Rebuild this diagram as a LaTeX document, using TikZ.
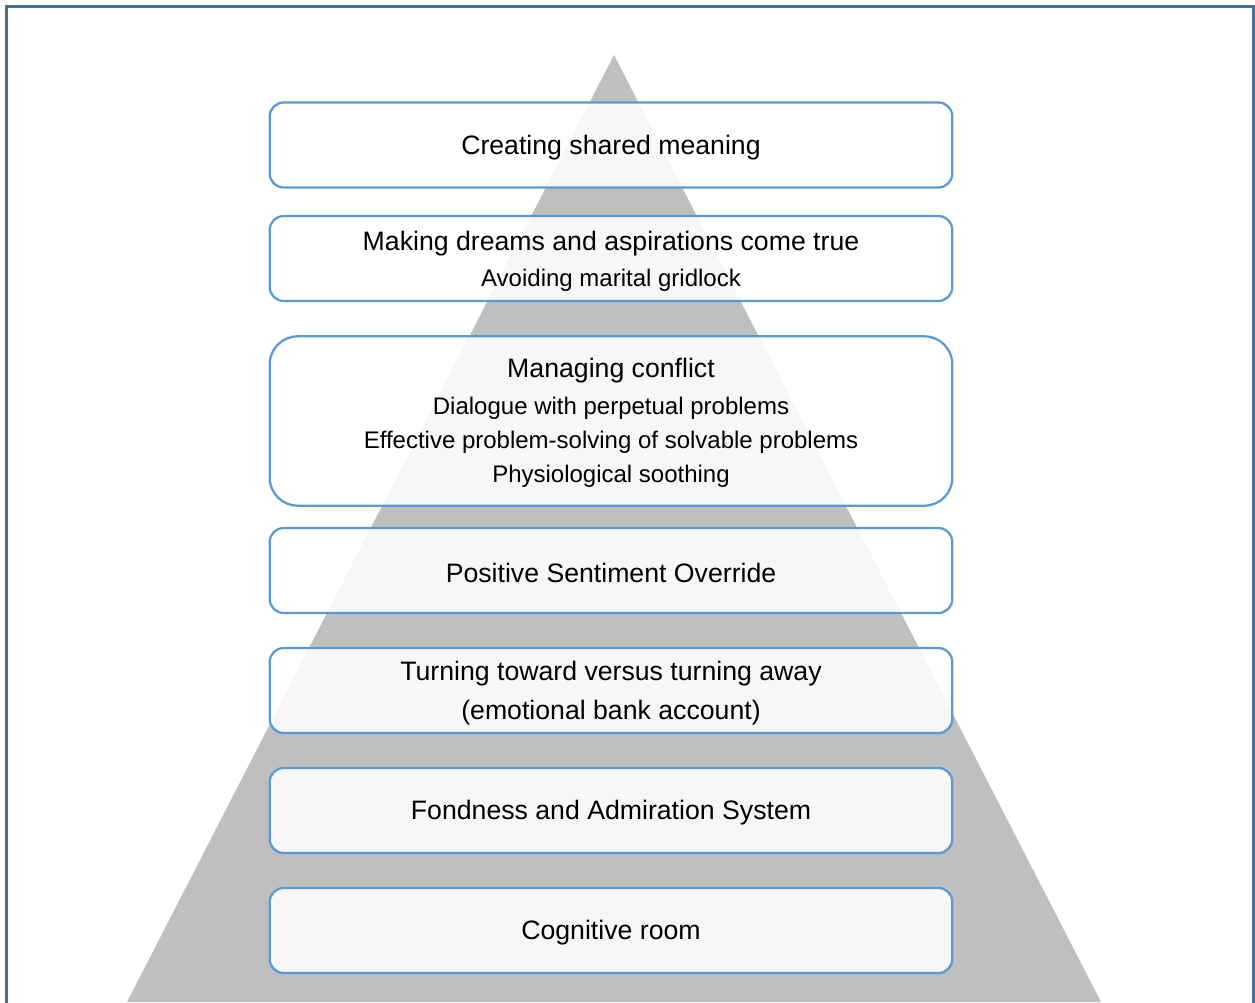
\documentclass[tikz,border=0pt]{standalone}
\usepackage{fontspec}
\setmainfont{Liberation Sans}
\definecolor{frameblue}{RGB}{65,113,156}
\definecolor{boxblue}{RGB}{91,155,213}
\definecolor{pyrgray}{RGB}{191,191,191}
\tikzset{
  layerbox/.style={draw=boxblue, line width=1.7pt, fill=white, fill opacity=0.88, text opacity=1,
    rounded corners=10.5pt, inner sep=0pt, minimum width=512pt, minimum height=63.75pt},
  bigbox/.style={layerbox, rounded corners=21pt, minimum height=127pt},
  maintext/.style={font=\fontsize{20}{24}\selectfont, inner sep=0pt, text=black, yshift=-1.9pt},
  subtext/.style={font=\fontsize{18}{21}\selectfont, inner sep=0pt, text=black, yshift=-1.9pt}
}
\begin{document}
\begin{tikzpicture}[x=0.75pt, y=-0.75pt]
\useasboundingbox (0,0) rectangle (1255,1002);
\clip (0,0) rectangle (1255,1002);
\fill[white] (0,0) rectangle (1255,1002);
% pyramid
\fill[pyrgray] (614,55) -- (1101,1002) -- (127,1002) -- cycle;
% boxes
\node[layerbox] (b1) at (611,145) {};
\node[layerbox] (b2) at (611,258.5) {};
\node[bigbox]   (b3) at (611,421) {};
\node[layerbox] (b4) at (611,570.5) {};
\node[layerbox] (b5) at (611,690.5) {};
\node[layerbox] (b6) at (611,810.5) {};
\node[layerbox] (b7) at (611,930.5) {};
% texts
\node[maintext] (t1) at (611,145) {Creating shared meaning};
\node[maintext] (t2a) at (611,241) {Making dreams and aspirations come true};
\node[subtext]  (t2b) at (611,278) {Avoiding marital gridlock};
\node[maintext] (t3a) at (611,368) {Managing conflict};
\node[subtext]  (t3b) at (611,406) {Dialogue with perpetual problems};
\node[subtext]  (t3c) at (611,440) {Effective problem-solving of solvable problems};
\node[subtext]  (t3d) at (611,474) {Physiological soothing};
\node[maintext] (t4) at (611,570.5) {Positive Sentiment Override};
\node[maintext] (t5a) at (611,671) {Turning toward versus turning away};
\node[maintext] (t5b) at (611,710) {(emotional bank account)};
\node[maintext] (t6) at (611,810.5) {Fondness and Admiration System};
\node[maintext] (t7) at (611,930.5) {Cognitive room};
% outer frame
\draw[frameblue, line width=1.6pt] (6.5,6.5) rectangle (1253.5,1020);
\end{tikzpicture}
\end{document}
